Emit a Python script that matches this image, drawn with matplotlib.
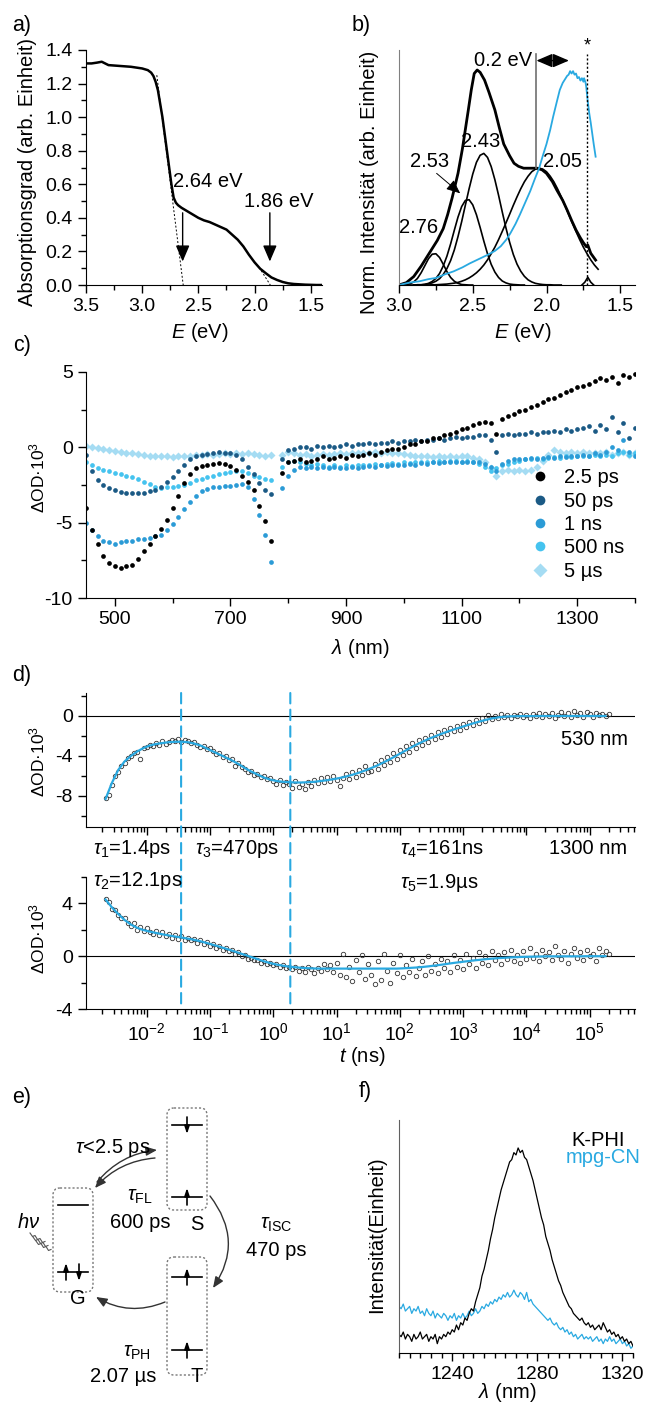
import numpy as np
import matplotlib
matplotlib.use("Agg")
import matplotlib.pyplot as plt
from matplotlib.patches import FancyBboxPatch, FancyArrowPatch, ConnectionPatch
from matplotlib.lines import Line2D
from matplotlib.ticker import MultipleLocator, FixedLocator, LogLocator, NullFormatter

plt.rcParams['font.family'] = ['Liberation Sans', 'DejaVu Sans']
plt.rcParams['mathtext.fontset'] = 'custom'
plt.rcParams['mathtext.rm'] = 'Liberation Sans'
plt.rcParams['mathtext.it'] = 'Liberation Sans:italic'
plt.rcParams['mathtext.bf'] = 'Liberation Sans:bold'
plt.rcParams['axes.unicode_minus'] = False

BLUE = '#29a9e1'

# ---------------- a) Absorption ----------------
E_abs = [3.50, 3.45, 3.40, 3.36, 3.33, 3.30, 3.20, 3.10, 3.00, 2.95, 2.92, 2.90,
         2.88, 2.86, 2.84, 2.82, 2.80, 2.78, 2.76, 2.74, 2.72, 2.70, 2.68, 2.65,
         2.60, 2.55, 2.50, 2.45, 2.40, 2.35, 2.30, 2.25, 2.20, 2.15, 2.10, 2.05,
         2.00, 1.95, 1.90, 1.85, 1.80, 1.75, 1.70, 1.65, 1.60, 1.55, 1.50, 1.45, 1.40]
A_abs = [1.32, 1.32, 1.325, 1.33, 1.32, 1.31, 1.305, 1.30, 1.29, 1.28, 1.265, 1.245,
         1.21, 1.16, 1.08, 1.00, 0.90, 0.80, 0.70, 0.60, 0.52, 0.49, 0.475, 0.46,
         0.44, 0.42, 0.40, 0.385, 0.375, 0.36, 0.345, 0.33, 0.30, 0.27, 0.23, 0.18,
         0.135, 0.097, 0.07, 0.045, 0.03, 0.018, 0.01, 0.006, 0.004, 0.002, 0.001, 0.0, 0.0]
tan1_E, tan1_A = [2.87, 2.635], [1.25, 0.0]
tan2_E, tan2_A = [1.94, 1.86], [0.085, 0.0]

# ---------------- b) Emission ----------------
E_sum = [3.00, 2.95, 2.90, 2.85, 2.81, 2.77, 2.74, 2.70, 2.67, 2.64, 2.60, 2.57,
         2.53, 2.51, 2.49, 2.47, 2.45, 2.42, 2.39, 2.35, 2.32, 2.29, 2.25, 2.22,
         2.19, 2.155, 2.11, 2.064, 2.03, 2.00, 1.96, 1.93, 1.89, 1.86, 1.83, 1.80,
         1.77, 1.75, 1.73, 1.72, 1.70, 1.667]
I_sum = [0.0, 0.01, 0.036, 0.08, 0.12, 0.16, 0.19, 0.24, 0.30, 0.37, 0.475, 0.58,
         0.745, 0.83, 0.90, 0.915, 0.905, 0.872, 0.82, 0.745, 0.67, 0.60, 0.55, 0.518,
         0.505, 0.497, 0.497, 0.497, 0.49, 0.475, 0.44, 0.404, 0.36, 0.319, 0.275, 0.234,
         0.20, 0.18, 0.163, 0.17, 0.135, 0.106]
E_pl = [3.00, 2.93, 2.86, 2.80, 2.75, 2.69, 2.63, 2.57, 2.52, 2.46, 2.40, 2.35,
        2.31, 2.27, 2.245, 2.21, 2.18, 2.145, 2.11, 2.08, 2.05, 2.025, 2.00, 1.975,
        1.955, 1.93, 1.91, 1.89, 1.875, 1.86, 1.85, 1.84, 1.83, 1.82, 1.81, 1.80,
        1.79, 1.78, 1.77, 1.76, 1.75, 1.745, 1.74, 1.735, 1.73, 1.72, 1.71, 1.70,
        1.69, 1.68, 1.667]
I_pl = [0.0, 0.01, 0.016, 0.025, 0.03, 0.045, 0.058, 0.075, 0.092, 0.11, 0.128, 0.145,
        0.165, 0.195, 0.22, 0.26, 0.30, 0.35, 0.40, 0.45, 0.497, 0.55, 0.60, 0.66,
        0.716, 0.78, 0.83, 0.86, 0.875, 0.89, 0.895, 0.91, 0.90, 0.91, 0.895, 0.90,
        0.88, 0.885, 0.87, 0.88, 0.865, 0.88, 0.87, 0.86, 0.84, 0.78, 0.73, 0.69,
        0.645, 0.60, 0.546]
c276_E = np.linspace(3.0, 2.5, 21)
c276 = [0.000, 0.001, 0.002, 0.005, 0.013, 0.028, 0.052, 0.082, 0.112, 0.131,
        0.133, 0.117, 0.088, 0.057, 0.032, 0.016, 0.007, 0.002, 0.001, 0.000, 0.000]
c253_E = np.linspace(2.90, 2.15, 31)
c253 = [0.000, 0.001, 0.001, 0.003, 0.007, 0.015, 0.028, 0.049, 0.081, 0.123,
        0.175, 0.233, 0.289, 0.334, 0.360, 0.363, 0.341, 0.299, 0.245, 0.187,
        0.133, 0.088, 0.055, 0.032, 0.017, 0.009, 0.004, 0.002, 0.001, 0.000, 0.000]
c243_E = np.linspace(2.95, 1.90, 43)
c243 = [0.000, 0.000, 0.000, 0.001, 0.001, 0.002, 0.005, 0.009, 0.016, 0.027,
        0.045, 0.070, 0.104, 0.149, 0.206, 0.270, 0.340, 0.409, 0.472, 0.522,
        0.552, 0.560, 0.543, 0.504, 0.448, 0.382, 0.311, 0.243, 0.182, 0.130,
        0.089, 0.059, 0.037, 0.022, 0.013, 0.007, 0.004, 0.002, 0.001, 0.001,
        0.000, 0.000, 0.000]
c205_E = np.linspace(2.90, 1.65, 51)
c205 = [0.000, 0.000, 0.000, 0.000, 0.000, 0.001, 0.001, 0.002, 0.003, 0.004,
        0.006, 0.008, 0.011, 0.016, 0.022, 0.030, 0.040, 0.052, 0.067, 0.085,
        0.107, 0.133, 0.161, 0.193, 0.228, 0.264, 0.301, 0.339, 0.375, 0.409,
        0.439, 0.463, 0.482, 0.493, 0.497, 0.493, 0.482, 0.463, 0.439, 0.409,
        0.375, 0.339, 0.301, 0.264, 0.228, 0.193, 0.161, 0.133, 0.107, 0.085, 0.067]
c172_E = [1.76, 1.74, 1.72, 1.70, 1.68]
c172 = [0.0, 0.012, 0.033, 0.012, 0.0]

# ---------------- c) transient spectra ----------------
lam_l = np.arange(450, 771, 10)
lam_r = np.arange(790, 1401, 10)
labels_c = ['2.5 ps', '50 ps', '1 ns', '500 ns', '5 µs']
colors_c = ['#000000', '#1b5a85', '#2b9bd6', '#45c3ef', '#a5dcf3']
ps25_l = [-4.0, -5.5, -6.4, -7.2, -7.7, -7.9, -8.0, -7.9, -7.8, -7.4, -6.9, -6.4, -5.9, -5.4,
          -4.8, -4.0, -3.2, -2.4, -1.8, -1.4, -1.25, -1.15, -1.1, -1.05, -1.1, -1.25, -1.5,
          -1.9, -2.3, -2.8, -3.9, -4.9, -6.2]
ps25_r = [-1.7, -1.0, -0.9, -0.8, -1.0, -0.9, -0.8, -0.6, -0.8, -0.7,
          -0.6, -0.7, -0.5, -0.6, -0.5, -0.4, -0.5, -0.3, -0.2, -0.1,
          -0.1, 0.0, 0.2, 0.2, 0.4, 0.4, 0.6, 0.6, 0.8, 0.9,
          1.0, 1.2, 1.3, 1.5, 1.6, 1.7, 1.6, 0.9, 1.9, 2.1,
          2.2, 2.4, 2.5, 2.7, 2.8, 3.0, 3.2, 3.3, 3.5, 3.7,
          3.8, 4.0, 4.1, 4.2, 4.4, 4.6, 4.5, 4.7, 4.3, 4.8, 4.7, 4.9]
ps50_l = [-0.5, -1.6, -2.2, -2.5, -2.7, -2.8, -2.95, -3.0, -3.05, -3.0, -3.0, -2.9, -2.85,
          -2.6, -2.3, -1.95, -1.6, -1.2, -0.8, -0.6, -0.5, -0.45, -0.35, -0.3, -0.35, -0.4,
          -0.5, -0.8, -1.3, -1.8, -2.4, -2.8, -3.1]
ps50_r = [-0.8, -0.2, -0.1, 0.0, 0.0, -0.1, 0.1, 0.0, 0.1, 0.0,
          0.1, 0.2, 0.1, 0.2, 0.2, 0.3, 0.2, 0.3, 0.3, 0.4,
          0.3, 0.4, 0.4, 0.5, 0.4, 0.5, 0.5, 0.6, 0.5, 0.6,
          0.7, 0.6, 0.7, 0.7, 0.8, 0.8, 0.5, -0.3, 0.8, 0.9,
          0.8, 0.9, 0.9, 1.0, 0.9, 1.0, 1.0, 1.1, 1.0, 1.2,
          1.1, 1.2, 1.3, 1.4, 1.1, 1.5, 1.2, 2.0, 1.0, 1.6, 0.6, 1.3]
ns1_l = [-5.0, -5.5, -5.9, -6.2, -6.3, -6.4, -6.3, -6.2, -6.2, -6.1, -6.1, -6.0, -5.9, -5.8,
         -5.5, -5.1, -4.6, -4.1, -3.6, -3.2, -2.9, -2.75, -2.65, -2.6, -2.55, -2.55, -2.5,
         -2.45, -2.6, -3.4, -4.5, -5.8, -7.6]
ns1_r = [-2.7, -1.9, -1.5, -1.3, -1.4, -1.3, -1.4, -1.3, -1.4, -1.3,
         -1.4, -1.35, -1.3, -1.4, -1.3, -1.25, -1.3, -1.2, -1.25, -1.2,
         -1.15, -1.2, -1.1, -1.15, -1.05, -1.1, -1.0, -1.05, -1.0, -1.0,
         -0.95, -1.0, -0.95, -1.0, -1.0, -1.1, -1.3, -1.6, -1.1, -0.9,
         -0.8, -0.8, -0.75, -0.7, -0.75, -0.7, -0.65, -0.7, -0.6, -0.65,
         -0.55, -0.6, -0.5, -0.55, -0.4, -0.5, -0.3, 0.0, -0.2, 0.5, -0.3, -0.6]
ns500_l = [-1.0, -1.2, -1.35, -1.5, -1.6, -1.7, -1.8, -1.9, -1.95, -2.1, -2.3, -2.45, -2.6,
           -2.7, -2.65, -2.6, -2.55, -2.5, -2.4, -2.2, -2.1, -2.0, -1.9, -1.8, -1.7, -1.65,
           -1.6, -1.6, -1.7, -1.9, -2.0, -2.1, -2.2]
ns500_r = [-1.3, -1.0, -0.9, -1.0, -1.1, -1.2, -1.1, -1.2, -1.3, -1.2,
           -1.3, -1.2, -1.25, -1.2, -1.15, -1.2, -1.1, -1.15, -1.1, -1.05,
           -1.1, -1.0, -1.05, -1.0, -0.95, -1.0, -0.95, -0.9, -0.95, -0.9,
           -0.9, -0.95, -0.9, -1.0, -1.1, -1.3, -1.6, -1.4, -1.2, -1.1,
           -1.0, -0.9, -0.8, -0.75, -0.7, -0.75, -0.7, -0.65, -0.7, -0.6,
           -0.65, -0.6, -0.55, -0.6, -0.5, -0.55, -0.5, -0.6, -0.4, -0.3, -0.5, -0.4]
us5_l = [0.1, 0.0, -0.05, -0.1, -0.2, -0.25, -0.3, -0.35, -0.4, -0.45, -0.5, -0.55, -0.6,
         -0.6, -0.6, -0.65, -0.6, -0.55, -0.55, -0.5, -0.5, -0.45, -0.5, -0.45, -0.4, -0.45,
         -0.4, -0.45, -0.4, -0.45, -0.5, -0.55, -0.5]
us5_r = [-0.5, -0.3, -0.4, -0.5, -0.45, -0.55, -0.5, -0.45, -0.5, -0.45,
         -0.4, -0.45, -0.4, -0.35, -0.4, -0.35, -0.3, -0.35, -0.3, -0.35,
         -0.4, -0.45, -0.5, -0.55, -0.6, -0.6, -0.65, -0.6, -0.65, -0.6,
         -0.65, -0.6, -0.6, -0.7, -0.8, -1.0, -1.4, -1.9, -1.6, -1.5,
         -1.6, -1.5, -1.6, -1.5, -1.3, -0.9, -0.5, -0.2, -0.3, -0.35,
         -0.3, -0.35, -0.3, -0.4, -0.35, -0.4, -0.3, -0.5, -0.4, -0.3, -0.5, -0.4]

# ---------------- d) kinetics ----------------
t_fit = 10 ** np.linspace(-2.65, 5.25, 80)
t_dat = 10 ** np.linspace(-2.65, 5.30, 160)
fit_530 = [-8.3, -6.7, -5.4, -4.55, -4.0, -3.55, -3.2, -2.95, -2.8, -2.7,
           -2.62, -2.58, -2.57, -2.62, -2.75, -2.95, -3.25, -3.55, -3.85, -4.15,
           -4.45, -4.8, -5.2, -5.55, -5.85, -6.15, -6.35, -6.5, -6.58, -6.62,
           -6.65, -6.65, -6.62, -6.58, -6.5, -6.42, -6.32, -6.2, -6.05, -5.88,
           -5.68, -5.45, -5.2, -4.93, -4.62, -4.3, -3.95, -3.6, -3.25, -2.9,
           -2.6, -2.3, -2.05, -1.8, -1.57, -1.35, -1.15, -0.95, -0.75, -0.57,
           -0.4, -0.25, -0.14, -0.07, -0.03, -0.02, -0.01, -0.01, -0.01, 0.0,
           0.0, 0.0, 0.0, 0.0, 0.0, 0.0, 0.0, 0.0, 0.0, 0.0]
dat_530 = [-8.2, -7.9, -6.9, -6.0, -5.6, -5.0, -4.7, -4.2, -4.0, -3.7,
           -3.6, -4.3, -3.2, -3.1, -2.9, -3.0, -2.7, -2.9, -2.5, -2.8,
           -2.6, -2.4, -2.5, -2.3, -2.6, -2.4, -2.5, -2.7, -2.6, -2.9,
           -3.1, -3.0, -3.3, -3.2, -3.5, -3.8, -3.7, -4.1, -4.0, -4.4,
           -4.3, -5.0, -4.7, -5.1, -5.3, -5.6, -5.5, -5.9, -5.8, -6.1,
           -6.0, -6.3, -6.2, -6.5, -6.8, -6.4, -6.9, -6.6, -6.8, -7.2,
           -6.5, -7.1, -6.8, -7.3, -6.6, -7.0, -6.4, -6.7, -6.2, -6.6,
           -6.1, -6.5, -6.0, -6.4, -7.0, -6.2, -5.8, -6.3, -5.6, -6.1,
           -5.4, -5.9, -5.0, -5.6, -5.5, -4.8, -5.3, -4.4, -4.9, -4.1,
           -4.6, -3.7, -4.3, -3.4, -3.9, -3.0, -3.6, -2.7, -3.2, -2.4,
           -2.9, -2.2, -2.6, -1.9, -2.3, -1.6, -2.1, -1.4, -1.8, -1.2,
           -1.5, -1.0, -1.4, -0.8, -1.1, -0.6, -0.9, -0.4, -0.7, -0.2,
           -0.5, 0.1, -0.3, 0.0, -0.2, 0.2, -0.1, 0.1, -0.2, 0.1,
           0.0, 0.2, -0.1, 0.1, -0.2, 0.2, 0.0, 0.3, -0.1, 0.2,
           0.0, 0.3, -0.2, 0.1, 0.4, 0.0, 0.3, -0.1, 0.5, 0.1,
           0.3, -0.1, 0.4, 0.2, -0.1, 0.3, 0.1, 0.2, 0.0, 0.2]
fit_1300 = [4.3, 3.7, 3.2, 2.75, 2.4, 2.15, 1.98, 1.86, 1.76, 1.66,
            1.57, 1.49, 1.41, 1.33, 1.24, 1.13, 1.0, 0.86, 0.72, 0.57,
            0.42, 0.26, 0.1, -0.06, -0.22, -0.38, -0.52, -0.63, -0.72, -0.79,
            -0.84, -0.88, -0.91, -0.93, -0.94, -0.94, -0.94, -0.94, -0.94, -0.94,
            -0.94, -0.94, -0.94, -0.94, -0.94, -0.94, -0.94, -0.92, -0.89, -0.86,
            -0.82, -0.77, -0.71, -0.65, -0.58, -0.51, -0.45, -0.39, -0.33, -0.28,
            -0.23, -0.19, -0.15, -0.12, -0.09, -0.07, -0.05, -0.04, -0.03, -0.02,
            -0.01, -0.01, -0.01, -0.01, -0.01, -0.01, 0.0, 0.0, 0.0, 0.0]
dat_1300 = [4.3, 4.1, 3.6, 3.5, 3.1, 2.9, 2.9, 2.5, 2.3, 2.5,
            2.0, 2.2, 1.9, 2.1, 1.8, 1.7, 1.9, 1.6, 1.8, 1.5,
            1.7, 1.4, 1.6, 1.3, 1.5, 1.2, 1.4, 1.2, 1.3, 1.0,
            1.2, 0.9, 1.1, 0.8, 0.9, 0.6, 0.8, 0.5, 0.6, 0.4,
            0.5, 0.2, 0.3, 0.0, 0.1, -0.2, -0.1, -0.3, -0.3, -0.5,
            -0.4, -0.6, -0.5, -0.7, -0.6, -0.8, -0.7, -0.9, -0.8, -1.0,
            -0.8, -1.1, -0.9, -1.2, -0.8, -1.0, -1.3, -0.9, -1.1, -0.6,
            -1.0, -0.7, -1.2, -0.5, -1.4, 0.2, -1.6, -0.8, -1.9, -0.3,
            -1.2, 0.1, -1.7, -0.6, -1.4, -2.1, -0.4, -1.8, 0.2, -1.1,
            -2.0, -0.5, -1.3, 0.1, -1.6, -0.7, -1.2, -0.2, -1.5, -0.9,
            -0.4, -1.4, 0.0, -1.1, -0.6, -1.3, -0.2, -0.9, -0.4, -1.2,
            0.1, -0.8, -0.3, -1.0, 0.2, -0.6, -0.1, -0.9, 0.3, -0.5,
            0.0, -0.7, 0.4, -0.3, 0.1, -0.6, 0.3, -0.2, 0.5, -0.4,
            0.1, -0.5, 0.4, -0.2, 0.6, -0.1, 0.2, -0.4, 0.5, 0.0,
            0.3, -0.3, 0.8, 0.1, -0.2, 0.4, -0.5, 0.2, 0.6, -0.1,
            0.3, -0.3, 0.5, 0.0, 0.2, -0.4, 0.6, 0.1, 0.4, 0.2]
t_marks = [0.035, 1.86]

# ---------------- f) singlet oxygen ----------------
lam_f = np.arange(1215, 1326, 1)
kphi = [0.08, 0.07, 0.09, 0.06, 0.08, 0.07, 0.05, 0.08, 0.06, 0.07,
        0.09, 0.06, 0.07, 0.08, 0.05, 0.07, 0.06, 0.08, 0.04, 0.07,
        0.06, 0.08, 0.07, 0.09, 0.08, 0.10, 0.09, 0.12, 0.10, 0.13,
        0.12, 0.15, 0.14, 0.17, 0.19, 0.18, 0.22, 0.25, 0.28, 0.33,
        0.36, 0.40, 0.44, 0.49, 0.53, 0.58, 0.62, 0.66, 0.70, 0.73,
        0.76, 0.79, 0.82, 0.83, 0.86, 0.85, 0.88, 0.86, 0.87, 0.84,
        0.83, 0.80, 0.77, 0.74, 0.70, 0.66, 0.62, 0.58, 0.55, 0.50,
        0.47, 0.44, 0.40, 0.37, 0.34, 0.31, 0.29, 0.26, 0.24, 0.22,
        0.20, 0.19, 0.17, 0.16, 0.15, 0.14, 0.15, 0.13, 0.12, 0.13,
        0.11, 0.12, 0.10, 0.11, 0.12, 0.10, 0.13, 0.11, 0.09, 0.10,
        0.08, 0.09, 0.07, 0.08, 0.06, 0.07, 0.05, 0.06, 0.04, 0.05, 0.03]
mpgcn = [0.20, 0.19, 0.21, 0.18, 0.19, 0.20, 0.17, 0.19, 0.18, 0.20,
         0.17, 0.18, 0.16, 0.19, 0.17, 0.16, 0.18, 0.15, 0.17, 0.16,
         0.15, 0.17, 0.16, 0.14, 0.16, 0.15, 0.17, 0.14, 0.16, 0.15,
         0.17, 0.15, 0.16, 0.18, 0.16, 0.17, 0.19, 0.17, 0.18, 0.20,
         0.19, 0.21, 0.20, 0.22, 0.21, 0.23, 0.22, 0.24, 0.23, 0.25,
         0.24, 0.26, 0.24, 0.25, 0.27, 0.25, 0.24, 0.26, 0.25, 0.23,
         0.26, 0.22, 0.23, 0.21, 0.20, 0.19, 0.18, 0.17, 0.16, 0.15,
         0.14, 0.15, 0.13, 0.12, 0.13, 0.11, 0.10, 0.11, 0.09, 0.10,
         0.08, 0.09, 0.07, 0.08, 0.06, 0.07, 0.08, 0.06, 0.07, 0.06,
         0.07, 0.05, 0.06, 0.07, 0.05, 0.06, 0.04, 0.06, 0.05, 0.07,
         0.05, 0.06, 0.04, 0.05, 0.06, 0.04, 0.05, 0.03, 0.04, 0.02, 0.03]

# ---------------- layout helpers (pixel based) ----------------
W, H = 646, 1410
fig = plt.figure(figsize=(W / 100, H / 100), dpi=100)


def rect(x0, y0, x1, y1):
    return [x0 / W, 1 - y1 / H, (x1 - x0) / W, (y1 - y0) / H]


def ftext(x, y, s, **kw):
    kw.setdefault('ha', 'center')
    kw.setdefault('va', 'center')
    kw.setdefault('fontsize', 14)
    fig.text(x / W, 1 - y / H, s, **kw)


def style(ax):
    for s in ['top', 'right']:
        ax.spines[s].set_visible(False)
    ax.tick_params(which='both', direction='out', labelsize=14, width=1)
    ax.tick_params(which='major', length=6)
    ax.tick_params(which='minor', length=3.5)


ax_a = fig.add_axes(rect(86, 50, 322, 285))
ax_b = fig.add_axes(rect(399, 50, 635, 285))
ax_c = fig.add_axes(rect(86, 372, 635, 598))
ax_d1 = fig.add_axes(rect(86, 693, 635, 827))
ax_d2 = fig.add_axes(rect(86, 877, 635, 1009))
ax_e = fig.add_axes(rect(0, 1060, 330, 1410))
ax_f = fig.add_axes(rect(399, 1120, 633, 1353))

arrow_kw = dict(arrowstyle='-|>,head_length=0.7,head_width=0.3', color='k', lw=1,
                mutation_scale=14, shrinkA=0, shrinkB=0)

# a)
style(ax_a)
ax_a.plot(E_abs, A_abs, color='k', lw=1.8)
ax_a.plot(tan1_E, tan1_A, color='k', lw=0.7, ls=(0, (2, 2)))
ax_a.plot(tan2_E, tan2_A, color='k', lw=0.7, ls=(0, (2, 2)))
ax_a.annotate('', xy=(2.64, 0.14), xytext=(2.64, 0.43), arrowprops=arrow_kw)
ax_a.annotate('', xy=(1.864, 0.14), xytext=(1.864, 0.43), arrowprops=arrow_kw)
ax_a.text(2.73, 0.615, '2.64 eV', fontsize=14.5, ha='left', va='center')
ax_a.text(2.09, 0.50, '1.86 eV', fontsize=14.5, ha='left', va='center')
ax_a.set_xlim(3.5, 1.4)
ax_a.set_ylim(0, 1.4)
ax_a.xaxis.set_major_locator(MultipleLocator(0.5))
ax_a.xaxis.set_minor_locator(MultipleLocator(0.25))
ax_a.yaxis.set_major_locator(MultipleLocator(0.2))
ax_a.yaxis.set_minor_locator(MultipleLocator(0.1))

# b)
style(ax_b)
ax_b.spines['left'].set_color('#808080')
ax_b.set_yticks([])
for ee, ii in [(c276_E, c276), (c253_E, c253), (c243_E, c243), (c205_E, c205), (c172_E, c172)]:
    ax_b.plot(ee, ii, color='k', lw=1.2)
ax_b.plot(E_sum, I_sum, color='k', lw=2.0)
ax_b.plot(E_pl, I_pl, color=BLUE, lw=1.3)
ax_b.plot([2.068, 2.068], [0.50, 0.985], color='#707070', lw=1.2)
ax_b.plot([1.724, 1.724], [0, 0.985], color='k', lw=1, ls=(0, (1.5, 1.5)))
ax_b.text(1.724, 1.015, '*', ha='center', va='center', fontsize=13, clip_on=False)
ax_b.annotate('', xy=(1.848, 0.955), xytext=(2.068, 0.955),
              arrowprops=dict(arrowstyle='<|-|>,head_length=0.7,head_width=0.3', color='k',
                              lw=1, mutation_scale=14, shrinkA=0, shrinkB=0))
ax_b.text(2.097, 0.957, '0.2 eV', fontsize=14.5, ha='right', va='center')
ax_b.text(2.864, 0.245, '2.76', fontsize=14.5, ha='center', va='center')
ax_b.text(2.796, 0.525, '2.53', fontsize=14.5, ha='center', va='center')
ax_b.text(2.449, 0.61, '2.43', fontsize=14.5, ha='center', va='center')
ax_b.text(1.893, 0.525, '2.05', fontsize=14.5, ha='center', va='center')
ax_b.annotate('', xy=(2.585, 0.39), xytext=(2.745, 0.475),
              arrowprops=dict(arrowstyle='-|>,head_length=0.7,head_width=0.3', color='k',
                              lw=0.7, mutation_scale=12, shrinkA=0, shrinkB=0))
ax_b.set_xlim(3.0, 1.4)
ax_b.set_ylim(0, 1.0)
ax_b.xaxis.set_major_locator(MultipleLocator(0.5))
ax_b.xaxis.set_minor_locator(MultipleLocator(0.25))

# c)
style(ax_c)
series_c = [(ps25_l, ps25_r), (ps50_l, ps50_r), (ns1_l, ns1_r), (ns500_l, ns500_r), (us5_l, us5_r)]
markers_c = ['o', 'o', 'o', 'o', 'D']
for k in [4, 3, 2, 1, 0]:
    yl, yr = series_c[k]
    ms = 3.8 if markers_c[k] == 'D' else 3.4
    for xx, yy in [(lam_l, yl), (lam_r, yr)]:
        ax_c.plot(xx, yy, ls='', marker=markers_c[k], ms=ms, color=colors_c[k], mec='none')
handles = [Line2D([], [], ls='', marker=m, ms=7, color=c, mec='none')
           for m, c in zip(markers_c, colors_c)]
ax_c.legend(handles, labels_c, loc='upper left', bbox_to_anchor=(0.79, 0.61), frameon=False,
            fontsize=14.5, handletextpad=0.6, labelspacing=0.22, handlelength=1.2,
            borderaxespad=0)
ax_c.set_xlim(450, 1400)
ax_c.set_ylim(-10, 5)
ax_c.xaxis.set_major_locator(FixedLocator([500, 700, 900, 1100, 1300]))
ax_c.xaxis.set_minor_locator(FixedLocator([600, 800, 1000, 1200, 1400]))
ax_c.yaxis.set_major_locator(MultipleLocator(5))
ax_c.yaxis.set_minor_locator(MultipleLocator(2.5))

# d)
for ax, dat, fit, lim in [(ax_d1, dat_530, fit_530, (-11.1, 2.3)),
                          (ax_d2, dat_1300, fit_1300, (-4, 6))]:
    style(ax)
    ax.set_xscale('log')
    ax.axhline(0, color='k', lw=0.8, zorder=1)
    ax.plot(t_dat, dat, ls='', marker='o', ms=3.2, mfc='none', mec='#333333', mew=0.6, zorder=2)
    ax.plot(t_fit, fit, color=BLUE, lw=1.6, zorder=3)
    ax.set_xlim(1.1e-3, 5.2e5)
    ax.set_ylim(*lim)
    ax.xaxis.set_major_locator(FixedLocator([1e-2, 1e-1, 1e0, 1e1, 1e2, 1e3, 1e4, 1e5]))
    ax.xaxis.set_minor_locator(LogLocator(base=10, subs=np.arange(2, 10), numticks=20))
    ax.xaxis.set_minor_formatter(NullFormatter())
    ax.yaxis.set_major_locator(MultipleLocator(4))
    ax.yaxis.set_minor_locator(MultipleLocator(2))
ax_d1.tick_params(labelbottom=False)
for tm in t_marks:
    fig.add_artist(ConnectionPatch(xyA=(tm, 2.3), coordsA=ax_d1.transData,
                                   xyB=(tm, -3.7), coordsB=ax_d2.transData,
                                   color=BLUE, lw=1.5, ls=(0, (5, 3))))
ax_d1.text(0.987, 0.65, '530 nm', transform=ax_d1.transAxes, fontsize=14.5, ha='right', va='center')

# e) scheme
ax_e.set_xlim(0, 330)
ax_e.set_ylim(1410, 1060)
ax_e.axis('off')
for x0, y0, x1, y1 in [(53, 1188, 93, 1292), (167, 1108, 207, 1210), (167, 1257, 207, 1375)]:
    ax_e.add_patch(FancyBboxPatch((x0, y0), x1 - x0, y1 - y0,
                                  boxstyle='round,pad=0,rounding_size=7', fill=False,
                                  ec='#777777', lw=1, ls=(0, (1.5, 1.5))))
for x0, x1, y in [(58, 88, 1205), (58, 88, 1272), (172, 202, 1125), (172, 202, 1197),
                  (172, 202, 1277), (172, 202, 1350)]:
    ax_e.plot([x0, x1], [y, y], color='k', lw=1.2)
spin_kw = dict(arrowstyle='-|>,head_length=0.45,head_width=0.15', color='k', lw=1.2,
               mutation_scale=10, shrinkA=0, shrinkB=0)
for x, y, up in [(66, 1272, True), (79, 1272, False), (187, 1125, False), (187, 1197, True),
                 (187, 1277, True), (187, 1350, True)]:
    if up:
        ax_e.annotate('', xy=(x, y - 9), xytext=(x, y + 8), arrowprops=spin_kw)
    else:
        ax_e.annotate('', xy=(x, y + 9), xytext=(x, y - 8), arrowprops=spin_kw)
curve_kw = dict(arrowstyle='-|>,head_length=0.6,head_width=0.25', color='#333333', lw=1,
                mutation_scale=11, shrinkA=0, shrinkB=0)
for p0, p1, rad in [((97, 1182), (157, 1150), -0.2), ((155, 1158), (95, 1188), 0.2),
                    ((210, 1196), (213, 1288), -0.36), ((165, 1302), (96, 1297), -0.25)]:
    ax_e.add_patch(FancyArrowPatch(p0, p1, connectionstyle='arc3,rad=%s' % rad, **curve_kw))
# h-nu squiggles
sq_dx = [0, 2.5, 5, 7.5, 10, 12.5, 15]
sq_dy = [0, 3.5, 2.5, 6.5, 5.5, 9.5, 8.5]
for ox, oy in [(30, 1233), (33, 1237), (36, 1241)]:
    ax_e.plot([ox + d for d in sq_dx], [oy + d for d in sq_dy], color='#555555', lw=0.8)
etext = dict(fontsize=14.5, ha='center', va='center')
ax_e.text(75, 1148, r'$\tau$<2.5 ps', ha='left', va='center', fontsize=14.5)
ax_e.text(140, 1197, r'$\tau_{\rm FL}$', **etext)
ax_e.text(140, 1223, '600 ps', **etext)
ax_e.text(197, 1225, 'S', **etext)
ax_e.text(29, 1222, r'$h\nu$', **etext)
ax_e.text(78, 1298, 'G', **etext)
ax_e.text(276, 1225, r'$\tau_{\rm ISC}$', **etext)
ax_e.text(276, 1250, '470 ps', **etext)
ax_e.text(137, 1353, r'$\tau_{\rm PH}$', **etext)
ax_e.text(123, 1377, '2.07 µs', **etext)
ax_e.text(197, 1377, 'T', **etext)

# f)
style(ax_f)
ax_f.spines['left'].set_color('#606060')
ax_f.set_yticks([])
ax_f.plot(lam_f, mpgcn, color=BLUE, lw=0.9)
ax_f.plot(lam_f, kphi, color='k', lw=0.9)
ax_f.set_xlim(1215, 1325)
ax_f.set_ylim(0, 1)
ax_f.xaxis.set_major_locator(FixedLocator([1240, 1280, 1320]))
ax_f.xaxis.set_minor_locator(MultipleLocator(5))
ax_f.text((625 - 399) / 234, 0.914, 'K-PHI', transform=ax_f.transAxes, fontsize=14.5,
          ha='right', va='center')
ax_f.text((641 - 399) / 234, 0.841, 'mpg-CN', transform=ax_f.transAxes, fontsize=14.5,
          ha='right', va='center', color=BLUE)

# panel letters and axis labels
for x, y, s in [(22, 25, 'a)'), (361, 26, 'b)'), (22, 345, 'c)'), (22, 675, 'd)'),
                (22, 1098, 'e)'), (365, 1092, 'f)')]:
    ftext(x, y, s, fontsize=15.5)
ftext(28, 172, 'Absorptionsgrad (arb. Einheit)', rotation=90, fontsize=14.5)
ftext(370, 182, 'Norm. Intensität (arb. Einheit)', rotation=90, fontsize=14.5)
ftext(200, 333, r'$E$ (eV)', fontsize=14.5)
ftext(523, 333, r'$E$ (eV)', fontsize=14.5)
ftext(37, 477, r'ΔOD·10$^3$', rotation=90, fontsize=12.5)
ftext(360, 648, r'$\lambda$ (nm)', fontsize=14.5)
ftext(37, 761, r'ΔOD·10$^3$', rotation=90, fontsize=12.5)
ftext(37, 938, r'ΔOD·10$^3$', rotation=90, fontsize=12.5)
ftext(362, 1057, r'$t$ (ns)', fontsize=14.5)
ftext(377, 1235, 'Intensität(Einheit)', rotation=90, fontsize=14.5)
ftext(507, 1393, r'$\lambda$ (nm)', fontsize=14.5)
ftext(93, 849, r'$\tau_1$=1.4ps', ha='left', fontsize=14.5)
ftext(195, 849, r'$\tau_3$=470ps', ha='left', fontsize=14.5)
ftext(400, 849, r'$\tau_4$=161ns', ha='left', fontsize=14.5)
ftext(627, 849, '1300 nm', ha='right', fontsize=14.5)
ftext(93, 881, r'$\tau_2$=12.1ps', ha='left', fontsize=14.5)
ftext(400, 883, r'$\tau_5$=1.9µs', ha='left', fontsize=14.5)

fig.savefig('out.png', dpi=100)
